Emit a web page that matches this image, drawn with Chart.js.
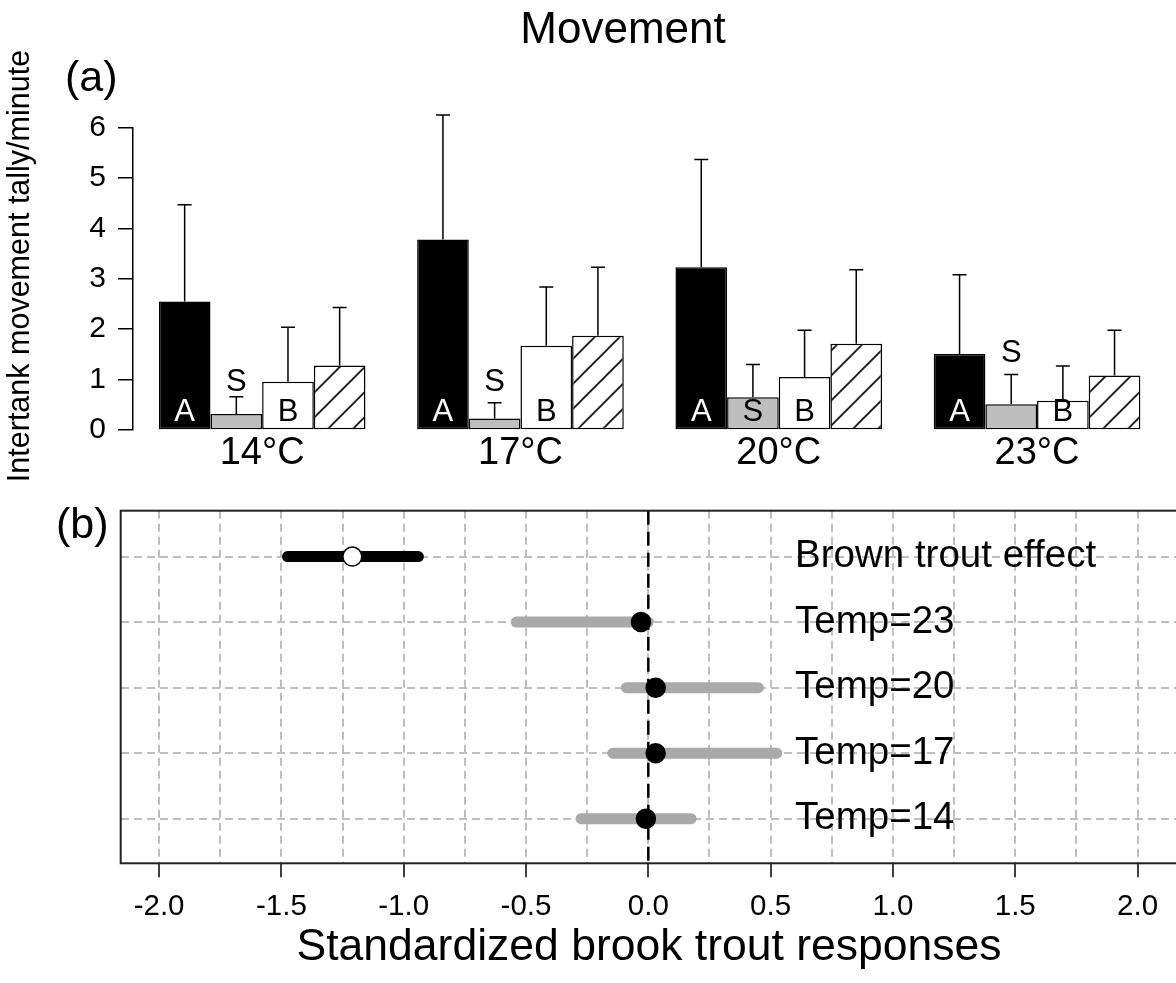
<!DOCTYPE html>
<html>
<head>
<meta charset="utf-8">
<script src="https://cdn.jsdelivr.net/npm/chart.js@4.4.0/dist/chart.umd.min.js"></script>
<style>
  html, body { margin: 0; padding: 0; background: #fff; overflow: hidden; }
  #wrap { position: relative; width: 1176px; height: 983px; overflow: hidden; background: #fff; }
  #chartA { position: absolute; left: 0; top: 0; }
  #chartB { position: absolute; left: 0; top: 490px; }
</style>
</head>
<body>
<div id="wrap">
  <canvas id="chartA" width="1176" height="490"></canvas>
  <canvas id="chartB" width="1200" height="493"></canvas>
</div>
<script>
const FONT = "'Liberation Sans', Arial, Helvetica, sans-serif";
Chart.defaults.font.family = FONT;
Chart.defaults.color = '#000';

// panel (a) - intertank movement, mean and upper error bar
const groupLabels = ['14°C', '17°C', '20°C', '23°C'];
const meanBlack = [2.55, 3.78, 3.23, 1.51];
const meanGray = [0.32, 0.23, 0.65, 0.51];
const meanWhite = [0.96, 1.67, 1.05, 0.58];
const meanHatched = [1.28, 1.87, 1.71, 1.08];
const errBlack = [4.47, 6.25, 5.37, 3.08];
const errGray = [0.66, 0.54, 1.30, 1.10];
const errWhite = [2.04, 2.84, 1.98, 1.27];
const errHatched = [2.43, 3.23, 3.18, 1.98];
const letterText = ['A', 'S', 'B'];
const letterA = [0.34, 0.34, 0.34, 0.34];
const letterS = [0.94, 0.94, 0.34, 1.51];
const letterB = [0.34, 0.34, 0.34, 0.34];
const yTicksA = [0, 1, 2, 3, 4, 5, 6];

// panel (b) - standardized brook trout responses
const rowLabels = ['Temp=14', 'Temp=17', 'Temp=20', 'Temp=23', 'Brown trout effect'];
const estimate = [-0.01, 0.03, 0.03, -0.03, -1.21];
const lowerCI = [-0.275, -0.145, -0.09, -0.54, -1.475];
const upperCI = [0.175, 0.525, 0.45, 0.0, -0.94];
const xGridValues = [-2, -1.75, -1.5, -1.25, -1, -0.75, -0.5, -0.25, 0, 0.25, 0.5, 0.75, 1, 1.25, 1.5, 1.75, 2];
const xLabelValues = [-2, -1.5, -1, -0.5, 0, 0.5, 1, 1.5, 2];
const xTickLabels = ['-2.0', '-1.5', '-1.0', '-0.5', '0.0', '0.5', '1.0', '1.5', '2.0'];

const errTops = [errBlack, errGray, errWhite, errHatched];
const letterLevels = [letterA, letterS, letterB];

// diagonal hatching for the 4th bar
const ctxA = document.getElementById('chartA').getContext('2d');
const tile = document.createElement('canvas');
tile.width = 25;
tile.height = 25;
const tg = tile.getContext('2d');
tg.fillStyle = '#fff';
tg.fillRect(0, 0, 25, 25);
tg.strokeStyle = '#000';
tg.lineWidth = 1.6;
tg.beginPath();
tg.moveTo(-5, 30); tg.lineTo(30, -5);
tg.moveTo(-5, 5); tg.lineTo(5, -5);
tg.moveTo(20, 30); tg.lineTo(30, 20);
tg.stroke();
const hatch = ctxA.createPattern(tile, 'repeat');
hatch.setTransform(new DOMMatrix([1, 0, 0, 1, 6.7, 0]));

const barStyle = {
  borderColor: '#000',
  borderWidth: 1.5,
  borderSkipped: false,
  categoryPercentage: 0.8,
  barPercentage: 1.0
};

const barExtras = {
  id: 'barExtras',
  afterDatasetsDraw(chart) {
    const ctx = chart.ctx;
    const ys = chart.scales.y;
    ctx.save();
    ctx.strokeStyle = '#000';
    ctx.lineWidth = 1.5;
    errTops.forEach((tops, i) => {
      chart.getDatasetMeta(i).data.forEach((bar, j) => {
        const yt = ys.getPixelForValue(tops[j]);
        ctx.beginPath();
        ctx.moveTo(bar.x, bar.y);
        ctx.lineTo(bar.x, yt);
        ctx.moveTo(bar.x - 7, yt);
        ctx.lineTo(bar.x + 7, yt);
        ctx.stroke();
      });
    });
    ctx.font = '31px ' + FONT;
    ctx.textAlign = 'center';
    ctx.textBaseline = 'middle';
    letterLevels.forEach((levels, i) => {
      chart.getDatasetMeta(i).data.forEach((bar, j) => {
        ctx.fillStyle = i === 0 ? '#fff' : '#000';
        ctx.fillText(letterText[i], bar.x, ys.getPixelForValue(levels[j]));
      });
    });
    ctx.restore();
  },
  afterDraw(chart) {
    const ctx = chart.ctx;
    ctx.save();
    ctx.fillStyle = '#000';
    ctx.textBaseline = 'alphabetic';
    ctx.font = '44px ' + FONT;
    ctx.textAlign = 'center';
    ctx.fillText('Movement', 623, 43);
    ctx.font = '43px ' + FONT;
    ctx.textAlign = 'left';
    ctx.fillText('(a)', 65, 91);
    ctx.translate(21, 266);
    ctx.rotate(-Math.PI / 2);
    ctx.font = '30.5px ' + FONT;
    ctx.textAlign = 'center';
    ctx.textBaseline = 'middle';
    ctx.fillText('Intertank movement tally/minute', 0, 0);
    ctx.restore();
  }
};

new Chart(ctxA, {
  type: 'bar',
  data: {
    labels: groupLabels,
    datasets: [
      { label: 'A', data: meanBlack, backgroundColor: '#000', ...barStyle },
      { label: 'S', data: meanGray, backgroundColor: '#bebebe', ...barStyle },
      { label: 'B', data: meanWhite, backgroundColor: '#fff', ...barStyle },
      { label: 'Hatched', data: meanHatched, backgroundColor: hatch, ...barStyle }
    ]
  },
  options: {
    responsive: false,
    animation: false,
    devicePixelRatio: 1,
    layout: { padding: { top: 127.7, right: 9.8, bottom: 0, left: 0 } },
    plugins: { legend: { display: false }, tooltip: { enabled: false } },
    scales: {
      x: {
        afterFit: s => { s.height = 60; },
        grid: { display: false, drawTicks: false },
        border: { display: false },
        ticks: { color: '#000', font: { size: 38 }, padding: 0.8, maxRotation: 0, autoSkip: false }
      },
      y: {
        min: 0,
        max: 6,
        afterFit: s => { s.width = 133; },
        afterBuildTicks: s => { s.ticks = yTicksA.map(v => ({ value: v })); },
        grid: { drawOnChartArea: false, tickLength: 15, color: '#000', lineWidth: 1.5 },
        border: { display: true, color: '#000', width: 1.5 },
        ticks: { color: '#000', font: { size: 30 }, padding: 12 }
      }
    }
  },
  plugins: [barExtras]
});

// panel (b)
const rowColors = ['#a9a9a9', '#a9a9a9', '#a9a9a9', '#a9a9a9', '#000'];
const pointFill = ['#000', '#000', '#000', '#000', '#fff'];

const forestExtras = {
  id: 'forestExtras',
  beforeDatasetsDraw(chart) {
    const { ctx, chartArea: a, scales: { x } } = chart;
    const x0 = x.getPixelForValue(0);
    ctx.save();
    ctx.strokeStyle = '#000';
    ctx.lineWidth = 2.5;
    ctx.setLineDash([14, 7]);
    ctx.beginPath();
    ctx.moveTo(x0, a.top);
    ctx.lineTo(x0, a.bottom);
    ctx.stroke();
    ctx.restore();
  },
  afterDatasetsDraw(chart) {
    const { ctx, scales: { x, y } } = chart;
    ctx.save();
    ctx.fillStyle = '#000';
    ctx.font = '38.5px ' + FONT;
    ctx.textAlign = 'left';
    ctx.textBaseline = 'middle';
    rowLabels.forEach((lab, i) => {
      ctx.fillText(lab, x.getPixelForValue(0.6), y.getPixelForValue(i + 1));
    });
    ctx.restore();
  },
  afterDraw(chart) {
    const { ctx, chartArea: a } = chart;
    ctx.save();
    ctx.strokeStyle = '#222';
    ctx.lineWidth = 2;
    ctx.strokeRect(a.left, a.top, a.right - a.left, a.bottom - a.top);
    ctx.fillStyle = '#000';
    ctx.font = '43px ' + FONT;
    ctx.textAlign = 'left';
    ctx.textBaseline = 'alphabetic';
    ctx.fillText('(b)', 56, 48);
    ctx.restore();
  }
};

const ciSets = rowLabels.map((lab, i) => ({
  label: lab,
  data: [{ x: lowerCI[i], y: i + 1 }, { x: upperCI[i], y: i + 1 }],
  showLine: true,
  borderColor: rowColors[i],
  borderWidth: 11,
  borderCapStyle: 'round',
  pointRadius: 0
}));

new Chart(document.getElementById('chartB'), {
  type: 'scatter',
  data: {
    datasets: [
      {
        label: 'estimate',
        data: estimate.map((v, i) => ({ x: v, y: i + 1 })),
        pointRadius: 9.5,
        pointBackgroundColor: pointFill,
        pointBorderColor: '#000',
        pointBorderWidth: 1.5
      },
      ...ciSets
    ]
  },
  options: {
    responsive: false,
    animation: false,
    devicePixelRatio: 1,
    layout: { padding: { top: 20.7, right: 22.6, bottom: 0, left: 120.7 } },
    plugins: { legend: { display: false }, tooltip: { enabled: false } },
    scales: {
      x: {
        type: 'linear',
        min: -2.157,
        max: 2.163,
        afterFit: s => { s.height = 119.7; },
        afterBuildTicks: s => { s.ticks = xGridValues.map(v => ({ value: v })); },
        grid: {
          color: '#bebebe',
          lineWidth: 2,
          tickLength: 14,
          tickWidth: 1.5,
          tickBorderDash: [],
          tickColor: c => (xLabelValues.includes(c.tick.value) ? '#000' : 'rgba(0,0,0,0)')
        },
        border: { display: false, dash: [8, 5] },
        ticks: {
          autoSkip: false,
          maxRotation: 0,
          padding: 12.2,
          color: '#000',
          font: { size: 29.5 },
          callback: v => {
            const k = xLabelValues.indexOf(v);
            return k >= 0 ? xTickLabels[k] : '';
          }
        },
        title: {
          display: true,
          text: 'Standardized brook trout responses',
          color: '#000',
          font: { size: 44.5 },
          padding: { top: 0, bottom: 9 }
        }
      },
      y: {
        type: 'linear',
        min: 0.32,
        max: 5.7,
        afterFit: s => { s.width = 0; },
        afterBuildTicks: s => { s.ticks = rowLabels.map((lab, i) => ({ value: i + 1 })); },
        grid: { color: '#bebebe', lineWidth: 2, drawTicks: false },
        border: { display: false, dash: [8, 5] },
        ticks: { display: false }
      }
    }
  },
  plugins: [forestExtras]
});
</script>
</body>
</html>
